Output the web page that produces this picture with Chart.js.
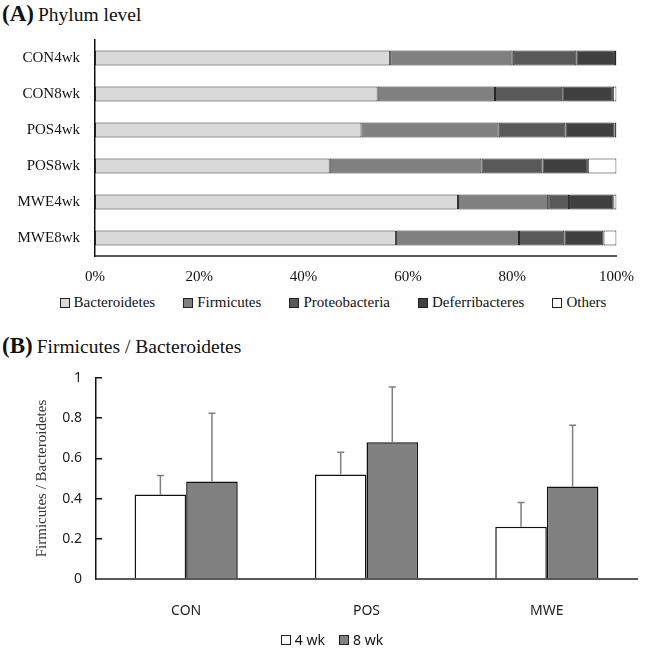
<!DOCTYPE html>
<html>
<head>
<meta charset="utf-8">
<script src="https://cdn.jsdelivr.net/npm/chart.js@4.4.1/dist/chart.umd.min.js"></script>
<style>
  body { margin: 0; width: 646px; height: 649px; position: relative; background: #fff; overflow: hidden; }
  canvas { position: absolute; left: 0; }
  #phylumChart { top: 0; }
  #ratioChart { top: 325px; }
  .ttl { position: absolute; left: 2px; font-family: "Liberation Serif", serif; color: #111; white-space: nowrap; }
  .ttl b { font-size: 23px; }
  .ttl span { font-size: 19.5px; }
  .lgd { position: absolute; left: 0; width: 646px; box-sizing: border-box; display: flex; justify-content: center; color: #111; }
  .lgd .it { display: flex; align-items: center; white-space: nowrap; }
  .lgd i { display: inline-block; box-sizing: border-box; width: 10px; height: 10px; border: 1px solid #222; margin-right: 4px; }
  #phylumLegend { top: 294px; gap: 28px; padding-left: 20px; font-family: "Liberation Serif", serif; font-size: 15px; }
  #ratioLegend { top: 630px; gap: 14px; padding-left: 18px; font-family: "Noto Sans", sans-serif; font-size: 14px; }
</style>
</head>
<body>
<div class="ttl" style="top:1px"><b>(A)</b> <span>Phylum level</span></div>
<canvas id="phylumChart" width="646" height="290"></canvas>
<div class="lgd" id="phylumLegend"></div>

<div class="ttl" style="top:333px"><b>(B)</b> <span>Firmicutes / Bacteroidetes</span></div>
<canvas id="ratioChart" width="646" height="324"></canvas>
<div class="lgd" id="ratioLegend"></div>

<script>
// Panel A - relative abundance at phylum level (%)
const sampleLabels = ['CON4wk', 'CON8wk', 'POS4wk', 'POS8wk', 'MWE4wk', 'MWE8wk'];
const phylumNames = ['Bacteroidetes', 'Firmicutes', 'Proteobacteria', 'Deferribacteres', 'Others'];
const bacteroidetes = [56.6, 54.2, 51.1, 45.0, 69.6, 57.7];
const firmicutes = [23.5, 22.5, 26.3, 29.1, 17.3, 23.6];
const proteobacteria = [12.2, 12.9, 12.8, 11.7, 4.0, 8.7];
const deferribacteres = [7.4, 9.7, 9.4, 8.7, 8.5, 7.5];
const others = [0.3, 0.7, 0.4, 5.5, 0.6, 2.5];
const percentTicks = [0, 20, 40, 60, 80, 100];

// Panel B - Firmicutes / Bacteroidetes ratio (mean + SD)
const groupLabels = ['CON', 'POS', 'MWE'];
const weekNames = ['4 wk', '8 wk'];
const ratio4wk = [0.42, 0.52, 0.26];
const ratio8wk = [0.485, 0.68, 0.46];
const sd4wk = [0.095, 0.11, 0.12];
const sd8wk = [0.34, 0.275, 0.305];

const phylumValues = [bacteroidetes, firmicutes, proteobacteria, deferribacteres, others];
const phylumColors = ['#d9d9d9', '#808080', '#595959', '#404040', '#ffffff'];
const weekColors = ['#ffffff', '#808080'];

const serif = 'Liberation Serif';
const sans = 'Noto Sans';

// Simple html legends (box + name)
function buildLegend(id, names, colors) {
    const el = document.getElementById(id);
    names.forEach((name, i) => {
        const it = document.createElement('div');
        it.className = 'it';
        it.innerHTML = `<i style="background:${colors[i]}"></i>${name}`;
        el.appendChild(it);
    });
}
buildLegend('phylumLegend', phylumNames, phylumColors);
buildLegend('ratioLegend', weekNames, weekColors);

// Stacked horizontal bar chart
new Chart(document.getElementById('phylumChart'), {
    type: 'bar',
    data: {
        labels: sampleLabels,
        datasets: phylumNames.map((name, k) => ({
            label: name,
            data: phylumValues[k],
            backgroundColor: phylumColors[k],
            borderColor: '#262626',
            borderWidth: 1,
            borderSkipped: false,
            categoryPercentage: 0.42,
            barPercentage: 1
        }))
    },
    options: {
        indexAxis: 'y',
        responsive: false,
        animation: false,
        layout: { padding: { top: 40, right: 18, left: 0, bottom: 0 } },
        plugins: { legend: { display: false }, tooltip: { enabled: false } },
        scales: {
            x: {
                stacked: true, min: 0, max: 100,
                afterBuildTicks: s => { s.ticks = percentTicks.map(v => ({ value: v })); },
                ticks: { callback: v => v + '%', color: '#111', font: { family: serif, size: 15 }, padding: 12, maxRotation: 0 },
                grid: { display: false, drawTicks: false },
                border: { color: '#595959', width: 2 },
                afterFit: s => { s.height = 34; }
            },
            y: {
                stacked: true,
                ticks: { color: '#111', font: { family: serif, size: 15 }, padding: 15 },
                grid: { display: false, drawTicks: false },
                border: { color: '#111', width: 1.5 },
                afterFit: s => { s.width = 95; }
            }
        }
    }
});

// Error bars (upper SD only) drawn from each bar's top
const errorBars = {
    id: 'errorBars',
    afterDatasetsDraw(chart) {
        const ctx = chart.ctx;
        const y = chart.scales.y;
        chart.data.datasets.forEach((ds, i) => {
            chart.getDatasetMeta(i).data.forEach((bar, j) => {
                const top = y.getPixelForValue(ds.data[j] + ds.errors[j]);
                ctx.save();
                ctx.strokeStyle = '#7f7f7f';
                ctx.lineWidth = 1.5;
                ctx.beginPath();
                ctx.moveTo(bar.x, bar.y);
                ctx.lineTo(bar.x, top);
                ctx.moveTo(bar.x - 3.5, top);
                ctx.lineTo(bar.x + 3.5, top);
                ctx.stroke();
                ctx.restore();
            });
        });
    }
};

new Chart(document.getElementById('ratioChart'), {
    type: 'bar',
    data: {
        labels: groupLabels,
        datasets: [
            { label: weekNames[0], data: ratio4wk, errors: sd4wk, backgroundColor: weekColors[0], borderColor: '#111', borderWidth: 1.5, categoryPercentage: 0.572, barPercentage: 1 },
            { label: weekNames[1], data: ratio8wk, errors: sd8wk, backgroundColor: weekColors[1], borderColor: '#111', borderWidth: 1.5, categoryPercentage: 0.572, barPercentage: 1 }
        ]
    },
    options: {
        responsive: false,
        animation: false,
        layout: { padding: { top: 53, right: 9, left: 0, bottom: 0 } },
        plugins: { legend: { display: false }, tooltip: { enabled: false } },
        scales: {
            x: {
                ticks: { color: '#222', font: { family: sans, size: 14 }, padding: 24 },
                grid: { display: false, drawTicks: false },
                border: { color: '#595959', width: 2 },
                afterFit: s => { s.height = 70; }
            },
            y: {
                min: 0, max: 1,
                ticks: { stepSize: 0.2, callback: v => String(+v.toFixed(1)), color: '#222', font: { family: sans, size: 14 }, padding: 20 },
                grid: { drawOnChartArea: false, drawTicks: true, tickLength: -6, color: '#111', lineWidth: 1.5 },
                border: { color: '#111', width: 1.5 },
                title: { display: true, text: 'Firmicutes / Bacteroidetes', color: '#333', font: { family: serif, size: 15 }, padding: { top: 33, bottom: 0 } },
                afterFit: s => { s.width = 96; }
            }
        }
    },
    plugins: [errorBars]
});
</script>
</body>
</html>
